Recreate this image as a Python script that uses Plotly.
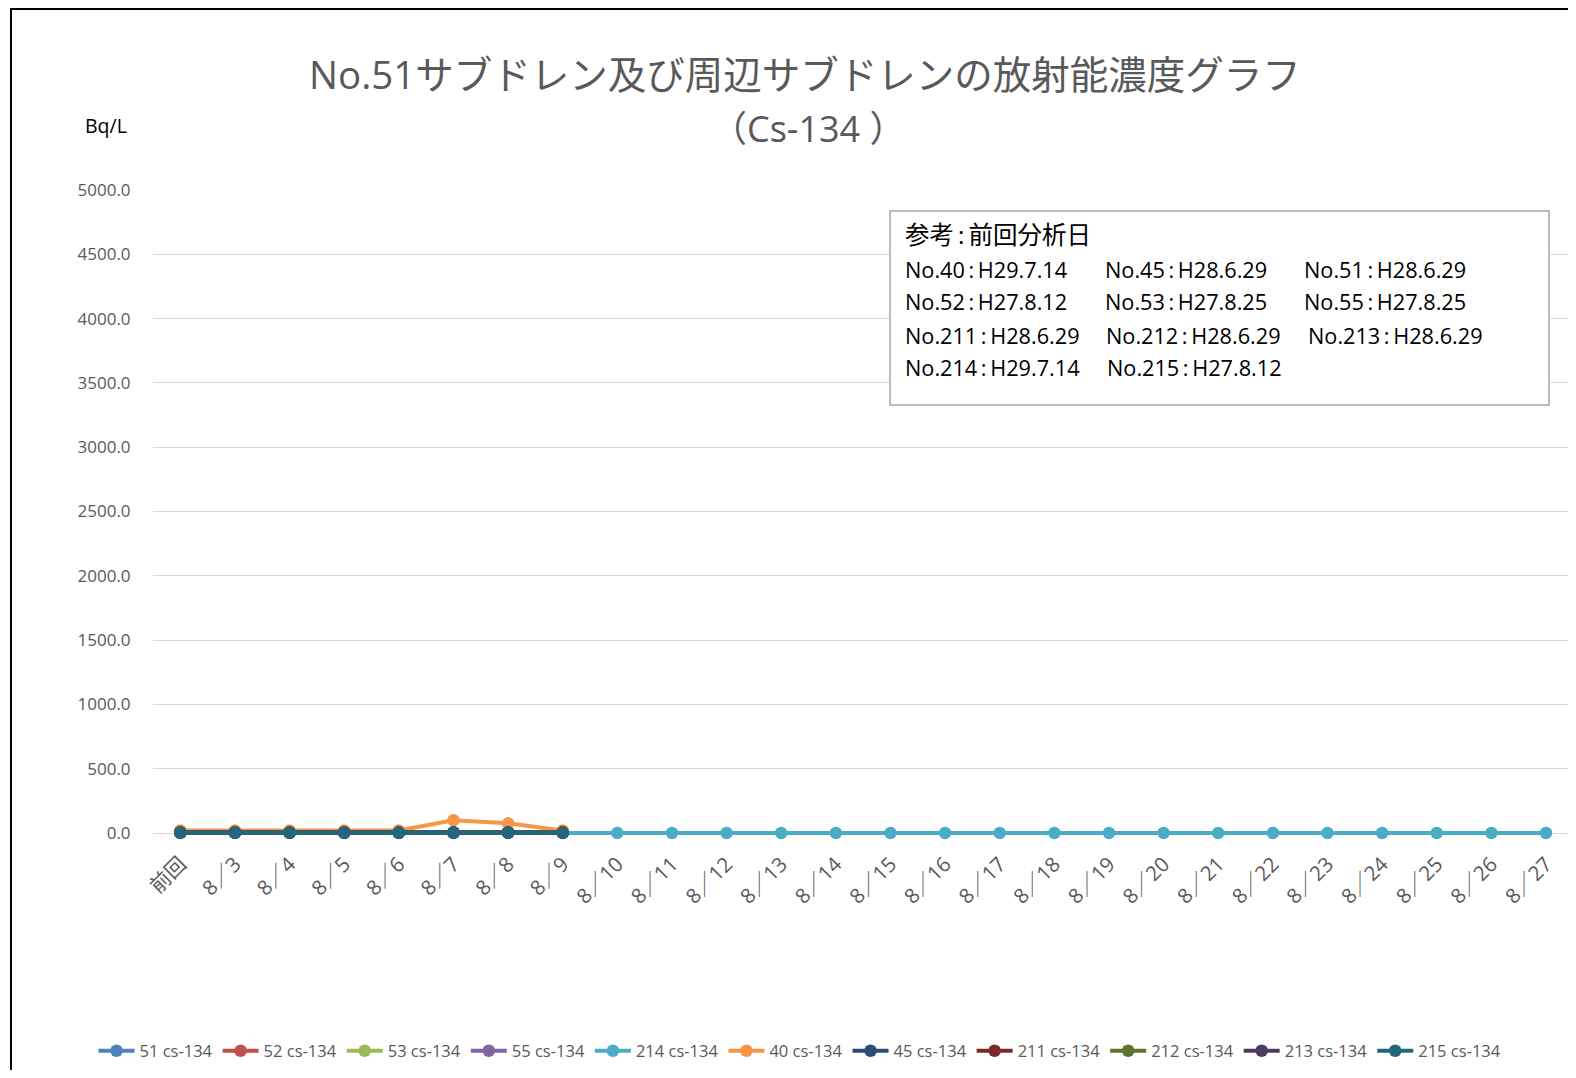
import plotly.graph_objects as go

categories = ["前回", "8/3", "8/4", "8/5", "8/6", "8/7", "8/8", "8/9", "8/10", "8/11", "8/12",
              "8/13", "8/14", "8/15", "8/16", "8/17", "8/18", "8/19", "8/20", "8/21", "8/22",
              "8/23", "8/24", "8/25", "8/26", "8/27"]
tick_labels = ["前回"] + [c.replace("/", "／") for c in categories[1:]]

series_names = ["51 cs-134", "52 cs-134", "53 cs-134", "55 cs-134", "214 cs-134", "40 cs-134",
                "45 cs-134", "211 cs-134", "212 cs-134", "213 cs-134", "215 cs-134"]
series_colors = ["#4F81BD", "#C0504D", "#9BBB59", "#8064A2", "#4BACC6", "#F79646",
                 "#2C4D75", "#772C2A", "#5F7530", "#4D3B62", "#22687A"]

v51 = [5, 5, 5, 5, 5, 5, 5, 5]
v52 = [3, 3, 3, 3, 3, 3, 3, 3]
v53 = [3, 3, 3, 3, 3, 3, 3, 3]
v55 = [3, 3, 3, 3, 3, 3, 3, 3]
v214 = [0] * 26
v40 = [20, 20, 20, 20, 20, 99, 75, 20]
v45 = [3, 3, 3, 3, 3, 3, 3, 3]
v211 = [3, 3, 3, 3, 3, 3, 3, 3]
v212 = [3, 3, 3, 3, 3, 3, 3, 3]
v213 = [3, 3, 3, 3, 3, 3, 3, 3]
v215 = [2, 2, 2, 2, 2, 2, 2, 2]
series_values = [v51, v52, v53, v55, v214, v40, v45, v211, v212, v213, v215]

y_ticks = [0, 500, 1000, 1500, 2000, 2500, 3000, 3500, 4000, 4500, 5000]

title_line1 = "No.51サブドレン及び周辺サブドレンの放射能濃度グラフ"
title_line2 = "（Cs-134 ）"
unit_label = "Bq/L"

note_title = "参考\u2009:\u2009前回分析日"
note_rows = [
    ["No.40\u2009:\u2009H29.7.14", "No.45\u2009:\u2009H28.6.29", "No.51\u2009:\u2009H28.6.29"],
    ["No.52\u2009:\u2009H27.8.12", "No.53\u2009:\u2009H27.8.25", "No.55\u2009:\u2009H27.8.25"],
    ["No.211\u2009:\u2009H28.6.29", "No.212\u2009:\u2009H28.6.29", "No.213\u2009:\u2009H28.6.29"],
    ["No.214\u2009:\u2009H29.7.14", "No.215\u2009:\u2009H27.8.12"],
]

FONT = "Open Sans, Noto Sans CJK JP, sans-serif"
OFF = 8  # default page margin of the html body
W, H = 1576 - 2 * OFF, 1078 - 2 * OFF
# plot area in page coordinates (a few px below the zero line so lines at 0 are not clipped)
Y0, Y5000 = 833, 190
PL, PR, PT, PB = 153, 1568, Y5000, 837
L, R, T, B = PL - OFF, W - (PR - OFF), PT - OFF, H - (PB - OFF)
PW, PH = W - L - R, H - T - B
STEP = (1546 - 180) / 25.0
Y_MIN = -(PB - Y0) * 5000.0 / (Y0 - Y5000)


def px(x):
    return (x - OFF - L) / PW


def py(y):
    return (PB - y) / PH


fig = go.Figure()
for name, color, vals in zip(series_names, series_colors, series_values):
    fig.add_trace(go.Scatter(
        x=categories[:len(vals)], y=vals, name=name, mode="lines+markers",
        line=dict(color=color, width=4), marker=dict(color=color, size=12.5),
        cliponaxis=False,
    ))

annotations = [
    dict(text=title_line1, x=px(805), y=py(74), xref="paper", yref="paper", showarrow=False,
         font=dict(size=38.5, color="#595959", family=FONT), xanchor="center", yanchor="middle"),
    dict(text=title_line2, x=px(808), y=py(129), xref="paper", yref="paper", showarrow=False,
         font=dict(size=36, color="#595959", family=FONT), xanchor="center", yanchor="middle"),
    dict(text=unit_label, x=px(106), y=py(125), xref="paper", yref="paper", showarrow=False,
         font=dict(size=19.5, color="#000000", family=FONT), xanchor="center", yanchor="middle"),
    dict(text=note_title, x=px(903), y=py(235), xref="paper", yref="paper", showarrow=False,
         font=dict(size=24.5, color="#000000", family=FONT), xanchor="left", yanchor="middle"),
]
col_x = [[903, 1103, 1302], [903, 1103, 1302], [903, 1104, 1306], [903, 1105, 1306]]
row_y = [269, 301, 335, 367]
for r, row in enumerate(note_rows):
    for c, txt in enumerate(row):
        annotations.append(dict(text=txt, x=px(col_x[r][c]), y=py(row_y[r]), xref="paper", yref="paper",
                                showarrow=False, font=dict(size=21.7, color="#000000", family=FONT),
                                xanchor="left", yanchor="middle"))

shapes = [
    dict(type="rect", xref="paper", yref="paper", x0=px(11), x1=px(1600), y0=py(1100), y1=py(9),
         line=dict(color="#000000", width=2), fillcolor="rgba(0,0,0,0)", layer="above"),
    dict(type="rect", xref="paper", yref="paper", x0=px(890), x1=px(1549), y0=py(405), y1=py(211),
         line=dict(color="#A6A6A6", width=1.5), fillcolor="#FFFFFF", layer="above"),
]

x_hi = -0.5 + (PR - (180 - STEP / 2)) / STEP

fig.update_layout(
    width=W, height=H,
    margin=dict(l=L, r=R, t=T, b=B, autoexpand=False),
    paper_bgcolor="#FFFFFF", plot_bgcolor="#FFFFFF",
    font=dict(family=FONT, color="#595959"),
    showlegend=True,
    legend=dict(orientation="h", x=px(800), xanchor="center", y=py(1051), yanchor="middle",
                font=dict(size=16.5, color="#595959", family=FONT), itemwidth=36,
                traceorder="normal"),
    annotations=annotations,
    shapes=shapes,
    xaxis=dict(type="category", categoryorder="array", categoryarray=categories,
               tickmode="array", tickvals=categories, ticktext=tick_labels,
               tickangle=-45, tickfont=dict(size=20.5, color="#595959", family=FONT),
               showgrid=False, showline=False,
               ticks="outside", ticklen=6, tickcolor="rgba(0,0,0,0)",
               zeroline=False, range=[-0.5, x_hi]),
    yaxis=dict(range=[Y_MIN, 5000], tickmode="array", tickvals=y_ticks,
               ticktext=[f"{v:.1f}" for v in y_ticks],
               tickfont=dict(size=17, color="#595959", family=FONT),
               showgrid=True, gridcolor="#D9D9D9", gridwidth=1, zeroline=False,
               showline=False, ticks="outside", ticklen=18, tickcolor="rgba(0,0,0,0)"),
)

fig.write_html("out.html")
